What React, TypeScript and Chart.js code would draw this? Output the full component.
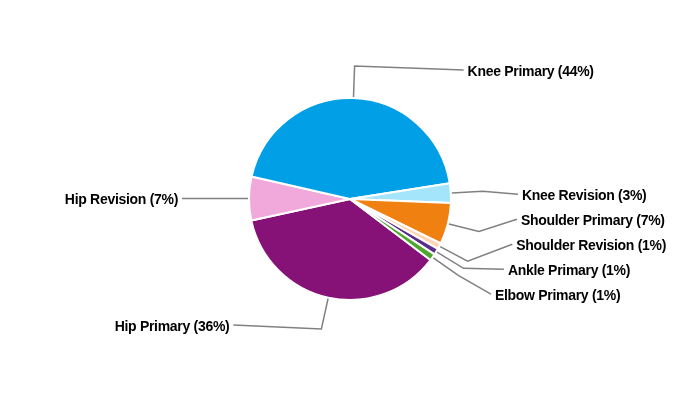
import React, { useEffect, useRef } from "react";
import { Chart, registerables } from "chart.js";

Chart.register(...registerables);

const categories = [
  "Hip Primary",
  "Hip Revision",
  "Knee Primary",
  "Knee Revision",
  "Shoulder Primary",
  "Shoulder Revision",
  "Ankle Primary",
  "Elbow Primary",
];
const values = [36.2, 7.0, 43.9, 3.1, 6.6, 1.0, 1.0, 1.1];
const colors = [
  "#861278",
  "#F0A9DA",
  "#009FE6",
  "#A5E5FB",
  "#F08010",
  "#FFD5B5",
  "#5B2D8A",
  "#4EA72E",
];

const leaderPlugin = {
  id: "leaderLabels",
  afterDatasetsDraw(chart: any) {
    const ctx = chart.ctx;
    const meta = chart.getDatasetMeta(0);
    const data = chart.data.datasets[0].data as number[];
    const total = data.reduce((a, b) => a + b, 0);
    const spacing = 25;
    const mergeGap = 32;
    const elbowExtra = 32;
    const labelExtra = 28;
    const a = 168;
    const b = 175;
    type L = { i: number; mid: number; cx: number; cy: number; r: number; ny: number; y: number; right: boolean };
    const labels: L[] = meta.data.map((arc: any, i: number) => {
      const p = arc.getProps(["x", "y", "startAngle", "endAngle", "outerRadius"], true);
      const mid = (p.startAngle + p.endAngle) / 2;
      const ny = p.y + Math.sin(mid) * (p.outerRadius + labelExtra);
      return { i, mid, cx: p.x, cy: p.y, r: p.outerRadius, ny, y: ny, right: Math.cos(mid) >= 0 };
    });
    const layoutSide = (items: L[]) => {
      items.sort((p, q) => p.ny - q.ny);
      const clusters = items.map((it) => [it]);
      const place = (c: L[]) => {
        const mean = c.reduce((s, it) => s + it.ny, 0) / c.length;
        c.forEach((it, k) => (it.y = mean + (k - (c.length - 1) / 2) * spacing));
      };
      clusters.forEach(place);
      let merged = true;
      while (merged) {
        merged = false;
        for (let k = 0; k < clusters.length - 1; k++) {
          const c1 = clusters[k];
          const c2 = clusters[k + 1];
          if (c2[0].y - c1[c1.length - 1].y < mergeGap) {
            const c = c1.concat(c2);
            place(c);
            clusters.splice(k, 2, c);
            merged = true;
            break;
          }
        }
      }
    };
    layoutSide(labels.filter((l) => l.right));
    layoutSide(labels.filter((l) => !l.right));

    ctx.save();
    ctx.strokeStyle = "#808080";
    ctx.lineWidth = 1.5;
    ctx.fillStyle = "#000000";
    ctx.font = "bold 14px 'Liberation Sans', Arial, sans-serif";
    (ctx as any).letterSpacing = "-0.3px";
    ctx.textBaseline = "middle";
    labels.forEach((l) => {
      const sx = l.cx + Math.cos(l.mid) * (l.r + 1);
      const sy = l.cy + Math.sin(l.mid) * (l.r + 1);
      const ex = l.cx + Math.cos(l.mid) * (l.r + elbowExtra);
      const ey = l.cy + Math.sin(l.mid) * (l.r + elbowExtra);
      const dy = l.y - l.cy;
      const off = a * Math.sqrt(Math.max(0, 1 - (dy / b) * (dy / b)));
      const lx = l.right ? l.cx + off : l.cx - off;
      ctx.beginPath();
      ctx.moveTo(sx, sy);
      ctx.lineTo(ex, ey);
      ctx.lineTo(lx, l.y);
      ctx.stroke();
      const pct = Math.round((data[l.i] / total) * 100);
      const text = `${categories[l.i]} (${pct}%)`;
      ctx.textAlign = l.right ? "left" : "right";
      ctx.fillText(text, l.right ? lx + 4 : lx - 4, l.y + 2);
    });
    ctx.restore();
  },
};

export default function App() {
  const ref = useRef<HTMLCanvasElement>(null);
  useEffect(() => {
    document.body.style.margin = "0";
    const chart = new Chart(ref.current!, {
      type: "pie",
      data: {
        labels: categories,
        datasets: [
          {
            data: values,
            backgroundColor: colors,
            borderColor: "#ffffff",
            borderWidth: 2,
            radius: 101,
          } as any,
        ],
      },
      options: {
        animation: false,
        responsive: false,
        rotation: 127.2,
        layout: { padding: { top: 98, bottom: 100, left: 0, right: 0 } },
        plugins: { legend: { display: false }, tooltip: { enabled: false } },
      },
      plugins: [leaderPlugin],
    });
    return () => chart.destroy();
  }, []);
  return (
    <div style={{ width: 700, height: 400, background: "#ffffff" }}>
      <canvas ref={ref} width={700} height={400} />
    </div>
  );
}
